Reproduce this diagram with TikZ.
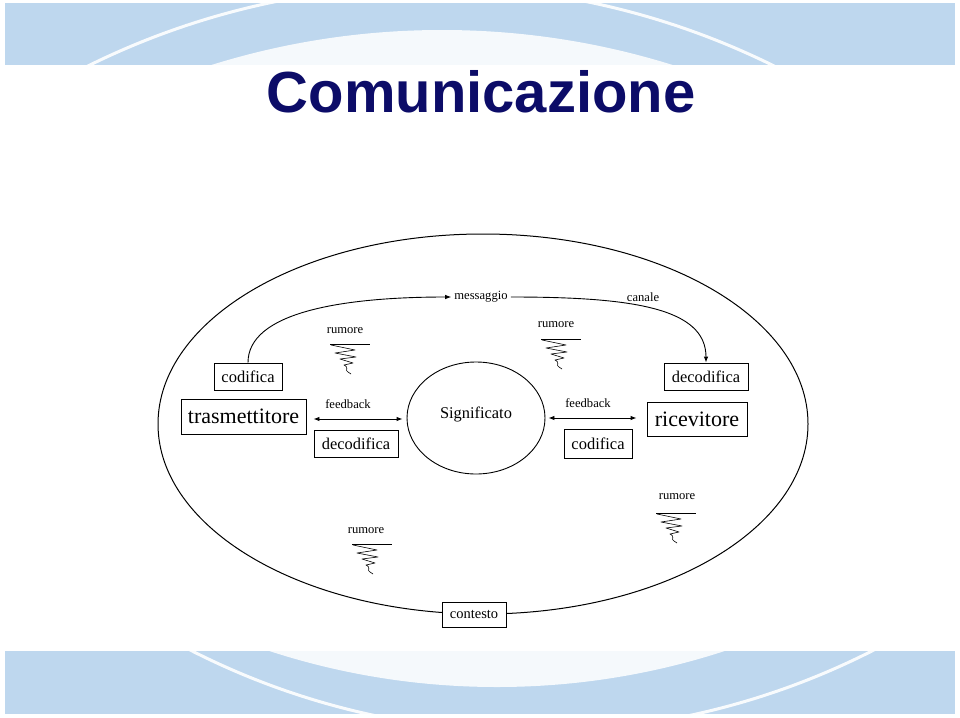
\documentclass[tikz,border=0pt]{standalone}
\usepackage{fontspec}
\setmainfont{Liberation Serif}
\newfontfamily\titlefont{Liberation Sans}
\usetikzlibrary{shapes.geometric,arrows.meta,calc}
\definecolor{bannerblue}{RGB}{190,215,238}
\definecolor{titlenavy}{RGB}{12,12,104}
\newcommand{\fs}[1]{\fontsize{#1}{#1}\selectfont}
\tikzset{
  box/.style={draw, fill=white, line width=0.9pt, inner sep=0pt},
  lbl/.style={inner sep=3pt, font=\fs{12.6}},
  tip/.style={-{Latex[length=6pt,width=4.5pt]}},
  dtip/.style={{Latex[length=6pt,width=4.5pt]}-{Latex[length=6pt,width=4.5pt]}},
  conn/.style={line width=0.9pt},
  pics/noise/.style={code={
    \draw[line width=1pt] (0,0) -- (40,0);
    \draw[line width=0.6pt, line join=round] (1,1) -- (25,6) -- (5,9) -- (26,13) -- (10,15) -- (23,19) -- (14,21)
      .. controls (20,24) and (14,26) .. (18,28) -- (21,30);
  }}
}
\begin{document}
\begin{tikzpicture}[x=1pt,y=-1pt]
\useasboundingbox (0,0) rectangle (960,717);
% top banner
\begin{scope}
  \clip (5,3) rectangle (955,65);
  \fill[bannerblue] (5,3) rectangle (955,65);
  \fill[white, opacity=0.85] (442,803) circle (773pt);
  \draw[white, line width=3pt, opacity=0.9] (431,760) circle (774pt);
\end{scope}
% bottom banner
\begin{scope}
  \clip (5,651) rectangle (955,714);
  \fill[bannerblue] (5,651) rectangle (955,714);
  \fill[white, opacity=0.85] (497,-47) circle (734pt);
  \draw[white, line width=3pt, opacity=0.9] (532,-20) circle (752pt);
\end{scope}
% title
\node[anchor=base, inner sep=0pt, text=titlenavy, font=\titlefont\bfseries\fs{58}] (title) at (481,112) {Comunicazione};

% context ellipse
\node[draw, ellipse, line width=1pt, minimum width=650pt, minimum height=380pt, inner sep=0pt] (ctx) at (483,424) {};

% significato
\node[draw, ellipse, line width=0.9pt, minimum width=138pt, minimum height=112pt, inner sep=0pt, font=\fs{16.4}] (sig) at (476,418) {\raisebox{11pt}{Significato}};

% boxes
\node[box, minimum width=68pt, minimum height=27pt, font=\fs{16.5}] (cod1) at (248,376.5) {codifica};
\node[box, minimum width=125pt, minimum height=35pt, font=\fs{22}] (tras) at (243.5,416.5) {trasmettitore};
\node[box, minimum width=84pt, minimum height=27pt, font=\fs{16.4}] (dec1) at (356,443.5) {decodifica};
\node[box, minimum width=84pt, minimum height=27pt, font=\fs{16.4}] (dec2) at (706,376.5) {decodifica};
\node[box, minimum width=100pt, minimum height=34pt, font=\fs{22}] (ric) at (697,419) {ricevitore};
\node[box, minimum width=68pt, minimum height=29pt, font=\fs{16.5}] (cod2) at (598,443.5) {codifica};
\node[box, minimum width=64pt, minimum height=25pt, font=\fs{14.5}] (cont) at (474,614.5) {contesto};

% labels
\node[lbl] (mess) at (481,297) {messaggio};
\node[lbl] (can) at (643,297) {canale};
\node[lbl] (fb1) at (348,404) {feedback};
\node[lbl] (fb2) at (588,403) {feedback};
\node[lbl] (r1) at (345,331) {rumore};
\node[lbl] (r2) at (556,325) {rumore};
\node[lbl] (r3) at (366,531) {rumore};
\node[lbl] (r4) at (677,497) {rumore};

% noise symbols
\pic at (330,344) {noise};
\pic at (541,339) {noise};
\pic at (352,544) {noise};
\pic at (656,513) {noise};

% connectors
\draw[conn, tip] (cod1.north) .. controls +(0,-50) and +(-110,0) .. (mess.west);
\draw[conn, tip] (mess.east) .. controls +(120,0) and +(0,-55) .. (dec2.north);
\draw[conn, dtip] ($(tras.east |- sig.west)+(7,1)$) -- ($(sig.west)+(-4,1)$);
\draw[conn, dtip] ($(sig.east)+(3,0)$) -- ($(ric.west |- sig.east)+(-10,0)$);
\end{tikzpicture}
\end{document}
